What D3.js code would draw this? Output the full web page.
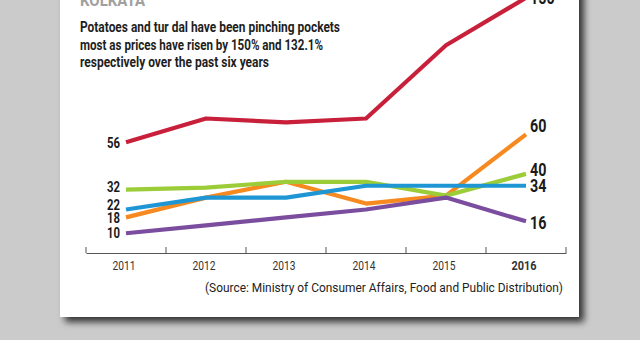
<!DOCTYPE html>
<html><head><meta charset="utf-8">
<script src="https://cdn.jsdelivr.net/npm/d3@7"></script>
<style>
html,body{margin:0;padding:0;background:#cbcbcb;}
svg{display:block;}
text{font-family:Roboto,"Liberation Sans",sans-serif;}
</style></head>
<body><svg id="c" width="640" height="340"></svg>
<script>
const years = ["2011","2012","2013","2014","2015","2016"];
const potatoes = [56, 68, 66, 68, 105, 129];
const orange   = [18, 28, 36, 25, 29, 60];
const green    = [32, 33, 36, 36, 29, 40];
const blue     = [22, 28, 28, 34, 34, 34];
const purple   = [10, 14, 18, 22, 28, 16];
const colors = ["#c8203b","#f6891f","#9ccd38","#1d96d3","#7a4d9f"];
const startLabels = ["56","18","32","22","10"];
const endLabels = ["150","60","40","34","16"];
const title = "KOLKATA";
const subtitle = ["Potatoes and tur dal have been pinching pockets",
  "most as prices have risen by 150% and 132.1%",
  "respectively over the past six years"];
const source = "(Source: Ministry of Consumer Affairs, Food and Public Distribution)";

const all = [potatoes, orange, green, blue, purple];
const svg = d3.select("#c");
const defs = svg.append("defs");
const f = defs.append("filter").attr("id","sh").attr("x","-10%").attr("y","-10%").attr("width","130%").attr("height","130%");
f.append("feDropShadow").attr("dx",5).attr("dy",5).attr("stdDeviation",3.5).attr("flood-color","#000").attr("flood-opacity",0.75);

svg.append("rect").attr("x",60).attr("y",-30).attr("width",519).attr("height",347)
  .attr("fill","#fff").attr("filter","url(#sh)");

svg.append("text").attr("x",80).attr("y",6).attr("font-size",17).attr("font-weight","bold")
  .attr("fill","#a0a0a0").attr("textLength",65).attr("lengthAdjust","spacingAndGlyphs").text(title);
const subW = [260, 243, 189];
svg.selectAll(".sub").data(subtitle).join("text").attr("class","sub")
  .attr("x",80).attr("y",(d,i)=>32+i*17.5).attr("font-size",14).attr("font-weight","bold")
  .attr("textLength",(d,i)=>subW[i]).attr("lengthAdjust","spacingAndGlyphs")
  .attr("fill","#1e1e1e").text(d=>d);

const x = d3.scaleBand().domain(years).range([86,566]);
const y = d3.scaleLinear().domain([0,60]).range([253,134.3]);

const axis = d3.axisBottom(x).tickSize(0).tickPadding(8);
const gA = svg.append("g").attr("transform","translate(0,253)").call(axis);
gA.select(".domain").attr("stroke","#555").attr("stroke-width",1);
gA.selectAll(".tick text").attr("font-size",12).attr("fill","#333").attr("x",-2)
  .attr("font-family","Roboto,sans-serif")
  .attr("textLength",d=>d==="2016"?25:23).attr("lengthAdjust","spacingAndGlyphs")
  .attr("font-weight",d=>d==="2016"?"bold":"normal");
const bounds = years.map(d=>x(d)).concat([x.range()[1]]);
gA.selectAll(".bt").data(bounds).join("line").attr("class","bt")
  .attr("x1",d=>d).attr("x2",d=>d).attr("y1",-6).attr("y2",0).attr("stroke","#555");

const line = d3.line().x((d,i)=>x(years[i])+x.bandwidth()/2).y(d=>y(d));
svg.selectAll(".ln").data(all).join("path").attr("class","ln")
  .attr("d",line).attr("fill","none").attr("stroke",(d,i)=>colors[i])
  .attr("stroke-width",4.2).attr("stroke-linejoin","round");

const sOff = [0, 0.5, -3, -5, -0.5];
svg.selectAll(".sl").data(all).join("text").attr("class","sl")
  .attr("x",x(years[0])+x.bandwidth()/2-6).attr("y",(d,i)=>y(d[0])+sOff[i])
  .attr("dy","0.36em").attr("text-anchor","end").attr("font-size",15.5).attr("font-weight","bold")
  .attr("textLength",13).attr("lengthAdjust","spacingAndGlyphs")
  .attr("fill","#1a1a1a").text((d,i)=>startLabels[i]);
const eOff = [0, -9, -4, 0, 1];
svg.selectAll(".el").data(all).join("text").attr("class","el")
  .attr("x",x(years[5])+x.bandwidth()/2+4).attr("y",(d,i)=>y(d[5])+eOff[i])
  .attr("dy","0.36em").attr("text-anchor","start").attr("font-size",18).attr("font-weight","bold")
  .attr("textLength",(d,i)=>endLabels[i].length*8.2).attr("lengthAdjust","spacingAndGlyphs")
  .attr("fill","#1a1a1a").text((d,i)=>endLabels[i]);

svg.append("text").attr("x",563).attr("y",291.5).attr("text-anchor","end")
  .attr("font-size",12.5).attr("fill","#222")
  .attr("textLength",358).attr("lengthAdjust","spacingAndGlyphs").text(source);
</script></body></html>
